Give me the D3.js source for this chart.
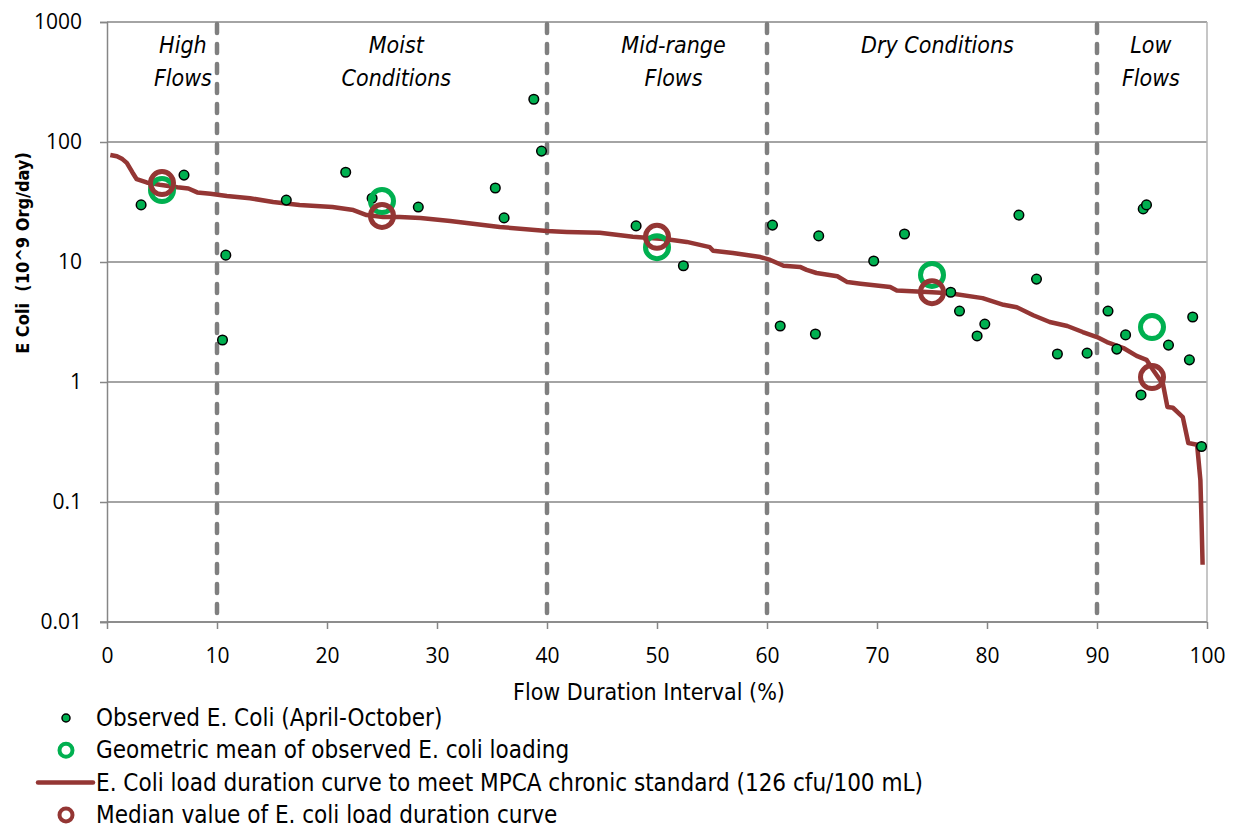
<!DOCTYPE html>
<html>
<head>
<meta charset="utf-8">
<script src="https://cdn.jsdelivr.net/npm/d3@7"></script>
<style>
  body { margin: 0; background: #fff; }
  svg { display: block; }
</style>
</head>
<body>
<svg id="chart"></svg>
<script>
"use strict";

// observed E. coli samples (flow duration %, 10^9 org/day)
const obsX = [3.1, 7.0, 10.5, 10.8, 16.3, 21.7, 24.1, 28.3, 35.3, 36.1, 38.8, 39.5, 48.1, 52.4,
    60.5, 61.2, 64.4, 64.7, 69.7, 72.5, 76.7, 77.5, 79.1, 79.8, 82.9, 84.5, 86.4, 89.1,
    91.0, 91.8, 92.6, 94.0, 94.2, 94.5, 96.5, 98.4, 98.7, 99.5];
const obsY = [29.9, 53, 2.24, 11.4, 32.8, 56, 34, 28.7, 41.4, 23.3, 227, 84, 20, 9.3,
    20.3, 2.93, 2.51, 16.5, 10.2, 17.1, 5.6, 3.9, 2.42, 3.04, 24.6, 7.2, 1.71, 1.74,
    3.9, 1.88, 2.47, 0.78, 27.7, 29.9, 2.03, 1.53, 3.48, 0.29];

// load duration curve
const curveX = [0.3, 0.9, 1.4, 1.8, 2.3, 2.7, 3.6, 4.8, 6.4, 7.4, 8.2, 9.4, 10.9, 13.0, 15.1,
    17.5, 20.5, 22.4, 23.6, 25.1, 26.6, 28.5, 31.2, 32.7, 35.7, 40.0, 41.8, 44.8, 47.8,
    50.9, 52.7, 53.9, 54.8, 55.1, 56.9, 59.4, 60.3, 61.5, 63.0, 63.6, 64.5, 66.4, 67.3,
    68.5, 71.2, 71.8, 75.0, 76.6, 79.6, 81.5, 82.7, 84.2, 85.7, 87.3, 88.7, 90.0, 90.9,
    92.4, 93.6, 94.5, 95.1, 96.0, 96.4, 96.9, 97.8, 98.3, 99.1, 99.4, 99.5, 99.6];
const curveY = [78, 76, 72, 67, 56, 49, 46, 44, 42, 41, 38, 37, 35.5, 34, 31.6,
    29.9, 28.7, 27.1, 24.6, 23.7, 23.7, 23.3, 22, 21.1, 19.6, 18.1, 17.8, 17.5, 16.2,
    15.5, 14.7, 13.9, 13.3, 12.4, 11.9, 11.0, 10.4, 9.3, 9.1, 8.6, 8.1, 7.6, 6.8,
    6.6, 6.2, 5.8, 5.6, 5.5, 5.0, 4.4, 4.2, 3.6, 3.16, 2.93, 2.61, 2.37, 2.15,
    1.92, 1.65, 1.53, 1.26, 0.96, 0.62, 0.61, 0.51, 0.31, 0.30, 0.152, 0.071, 0.030];

// zone statistics
const zoneX = [5, 25, 50, 75, 95];
const geoMean = [39.8, 32.2, 13.3, 7.8, 2.87];
const medianLdc = [45.5, 24.2, 16.2, 5.6, 1.1];

const zoneBreaks = [10, 40, 60, 90];
const zoneNames = [["High", "Flows"], ["Moist", "Conditions"], ["Mid-range", "Flows"], ["Dry Conditions"], ["Low", "Flows"]];
const zoneLabelX = [6.9, 26.3, 51.5, 75.5, 94.9];

const xTicks = [0, 10, 20, 30, 40, 50, 60, 70, 80, 90, 100];
const yTicks = [0.01, 0.1, 1, 10, 100, 1000];
const yTickLabels = ["0.01", "0.1", "1", "10", "100", "1000"];

const legendLabels = [
    "Observed E. Coli (April-October)",
    "Geometric mean of observed E. coli loading",
    "E. Coli load duration curve to meet MPCA chronic standard (126 cfu/100 mL)",
    "Median value of E. coli load duration curve"
];

const W = 1233, H = 828;
const margin = {top: 22, left: 107, right: 26, bottom: 206};
const green = "#00b050", brown = "#943634", grey = "#868686";
const tickFont = "'Open Sans', 'DejaVu Sans', sans-serif";
const narrowFont = "'Liberation Sans Narrow', 'DejaVu Sans Condensed', sans-serif";

const svg = d3.select("#chart").attr("width", W).attr("height", H);

const x = d3.scaleLinear().domain([0, 100]).range([margin.left, W - margin.right]);
const y = d3.scaleLog().domain([0.01, 1000]).range([H - margin.bottom, margin.top]);

// grid lines
svg.append("g")
    .selectAll("line")
    .data(yTicks)
    .join("line")
    .attr("x1", x(0)).attr("x2", x(100))
    .attr("y1", d => y(d)).attr("y2", d => y(d))
    .attr("stroke", grey).attr("stroke-width", 1.5);

// right border
svg.append("line")
    .attr("x1", x(100)).attr("x2", x(100))
    .attr("y1", y(1000)).attr("y2", y(0.01))
    .attr("stroke", "#b3b3b3").attr("stroke-width", 1.5);

// zone separators
svg.append("g")
    .selectAll("line")
    .data(zoneBreaks)
    .join("line")
    .attr("x1", d => x(d)).attr("x2", d => x(d))
    .attr("y1", y(1000) + 2).attr("y2", y(0.01))
    .attr("stroke", "#7f7f7f").attr("stroke-width", 4.5)
    .attr("stroke-linecap", "round")
    .attr("stroke-dasharray", "9,11");

// axes
let yAxis = svg.append("g")
    .attr("transform", `translate(${x(0)},0)`)
    .call(d3.axisLeft(y).tickValues(yTicks).tickFormat((d, i) => yTickLabels[i]).tickSize(7).tickPadding(18));
let xAxis = svg.append("g")
    .attr("transform", `translate(0,${y(0.01)})`)
    .call(d3.axisBottom(x).tickValues(xTicks).tickSize(7).tickPadding(19));

[yAxis, xAxis].forEach(a => {
    a.select(".domain").attr("stroke", grey).attr("stroke-width", 1.5);
    a.selectAll(".tick line").attr("stroke", grey).attr("stroke-width", 1.5);
    a.selectAll(".tick text")
        .attr("fill", "#000")
        .style("font-family", tickFont)
        .style("font-size", "21px");
});
xAxis.select(".domain").attr("d", `M${x(0) - 7},0H${x(100)}`);

// zone labels
zoneNames.forEach((lines, i) => {
    let t = svg.append("text")
        .attr("x", x(zoneLabelX[i]))
        .attr("y", 53)
        .attr("text-anchor", "middle")
        .style("font-family", narrowFont)
        .style("font-style", "italic")
        .style("font-size", "23px");
    lines.forEach((l, j) => {
        t.append("tspan").attr("x", x(zoneLabelX[i])).attr("dy", j === 0 ? 0 : 33).text(l);
    });
});

// load duration curve
const line = d3.line()
    .x(d => x(d[0]))
    .y(d => y(d[1]));

svg.append("path")
    .datum(d3.zip(curveX, curveY))
    .attr("d", line)
    .attr("fill", "none")
    .attr("stroke", brown)
    .attr("stroke-width", 4.5)
    .attr("stroke-linejoin", "round");

// observed points
svg.append("g")
    .selectAll("circle")
    .data(d3.zip(obsX, obsY))
    .join("circle")
    .attr("cx", d => x(d[0])).attr("cy", d => y(d[1]))
    .attr("r", 4.8)
    .attr("fill", green)
    .attr("stroke", "#000").attr("stroke-width", 1.5);

// geometric means
svg.append("g")
    .selectAll("circle")
    .data(d3.zip(zoneX, geoMean))
    .join("circle")
    .attr("cx", d => x(d[0])).attr("cy", d => y(d[1]))
    .attr("r", 11.5)
    .attr("fill", "none")
    .attr("stroke", green).attr("stroke-width", 5);

// medians
svg.append("g")
    .selectAll("circle")
    .data(d3.zip(zoneX, medianLdc))
    .join("circle")
    .attr("cx", d => x(d[0])).attr("cy", d => y(d[1]))
    .attr("r", 11.5)
    .attr("fill", "none")
    .attr("stroke", brown).attr("stroke-width", 5);

// axis titles
svg.append("text")
    .attr("x", 649).attr("y", 700)
    .attr("text-anchor", "middle")
    .style("font-family", narrowFont)
    .style("font-size", "23px")
    .text("Flow Duration Interval (%)");

svg.append("text")
    .attr("transform", "translate(29,253) rotate(-90)")
    .attr("text-anchor", "middle")
    .style("font-family", narrowFont)
    .style("font-weight", "bold")
    .style("font-size", "18px")
    .style("white-space", "pre")
    .text("E Coli  (10^9 Org/day)");

// legend
const legend = svg.append("g").attr("transform", "translate(0,718)");
legendLabels.forEach((label, i) => {
    let g = legend.append("g").attr("transform", `translate(0,${i * 32.3})`);
    if (i === 0) {
        g.append("circle").attr("cx", 66).attr("r", 4)
            .attr("fill", green).attr("stroke", "#000").attr("stroke-width", 1.5);
    } else if (i === 2) {
        g.append("line").attr("x1", 38).attr("x2", 93)
            .attr("stroke", brown).attr("stroke-width", 4.5).attr("stroke-linecap", "round");
    } else {
        g.append("circle").attr("cx", 66).attr("r", 6.5)
            .attr("fill", "none").attr("stroke", i === 1 ? green : brown).attr("stroke-width", 4);
    }
    g.append("text")
        .attr("x", 96).attr("y", 8)
        .style("font-family", narrowFont)
        .style("font-size", "24px")
        .text(label);
});
</script>
</body>
</html>
